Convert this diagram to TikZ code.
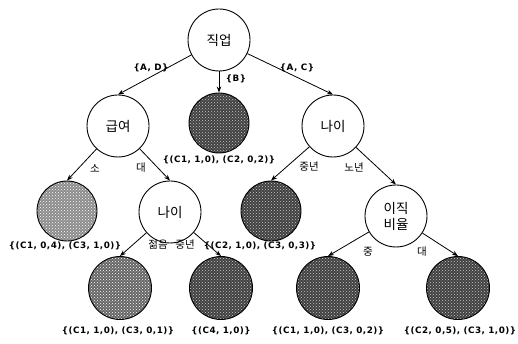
\documentclass[tikz,border=0pt]{standalone}
\usepackage{fontspec}
\setmainfont{Noto Sans CJK KR}
\newfontfamily\latinlab[LetterSpace=5]{DejaVu Sans}
\usetikzlibrary{arrows.meta,patterns}
\tikzset{
  tnode/.style={circle,draw,line width=0.9pt,minimum size=62pt,inner sep=0pt,font=\fontsize{13.5}{16}\selectfont,align=center},
  leafbase/.style={circle,draw,line width=0.9pt,minimum size=63pt,inner sep=0pt,pattern=crosshatch dots},
  lightleaf/.style={leafbase,preaction={fill=black!45},pattern color=white},
  midleaf/.style={leafbase,preaction={fill=black!60},pattern color=white},
  darkleaf/.style={leafbase,preaction={fill=black!75},pattern color=white!80!black},
  edge/.style={-{Stealth[length=6pt,width=4.5pt]},line width=0.8pt},
  elab/.style={font=\fontsize{10.5}{11}\selectfont,inner sep=1pt},
  slab/.style={font=\latinlab\bfseries\fontsize{8.8}{10}\selectfont,inner sep=1pt}
}
\begin{document}
\begin{tikzpicture}[x=1pt,y=-1pt]
\useasboundingbox (0,0) rectangle (518,344);
\fill[white] (0,0) rectangle (518,344);
% nodes
\node[tnode] (root) at (219,40) {직업};
\node[tnode] (n1) at (118,126) {급여};
\node[darkleaf,minimum size=60pt] (n2) at (219,123) {};
\node[tnode] (n3) at (333,126) {나이};
\node[lightleaf,minimum size=60pt] (l1) at (67,211) {};
\node[tnode] (n4) at (170,212) {나이};
\node[darkleaf,minimum size=60pt] (l2) at (271,211) {};
\node[tnode] (n5) at (396,216) {이직\\비율};
\node[midleaf] (l3) at (120,288) {};
\node[darkleaf] (l4) at (221,288) {};
\node[darkleaf] (l5) at (328,288) {};
\node[darkleaf] (l6) at (458,288) {};
% edges
\draw[edge] (root) -- (n1.north);
\draw[edge] (root) -- (n2.north);
\draw[edge] (root) -- (n3.north);
\draw[edge] (n1) -- (l1.north);
\draw[edge] (n1) -- (n4.north);
\draw[edge] (n3) -- (l2.north);
\draw[edge] (n3) -- (n5.north);
\draw[edge] (n4) -- (l3.north);
\draw[edge] (n4) -- (l4.north);
\draw[edge] (n5) -- (l5.north);
\draw[edge] (n5) -- (l6.north);
% edge labels
\node[slab] (e1) at (151,68) {\{A, D\}};
\node[slab] (e2) at (236,79) {\{B\}};
\node[slab] (e3) at (297,68) {\{A, C\}};
\node[elab] (e4) at (95,168) {소};
\node[elab] (e5) at (141,168) {대};
\node[elab] (e6) at (309,167) {중년};
\node[elab] (e7) at (354,167) {노년};
\node[elab] (e8) at (158,245) {젊음};
\node[elab] (e9) at (185,245) {중년};
\node[elab] (e10) at (368,252) {중};
\node[elab] (e11) at (422,252) {대};
% set labels
\node[slab] (s1) at (219,160) {\{(C1, 1,0), (C2, 0,2)\}};
\node[slab] (s2) at (65,246) {\{(C1, 0,4), (C3, 1,0)\}};
\node[slab] (s3) at (260,246) {\{(C2, 1,0), (C3, 0,3)\}};
\node[slab] (s4) at (118,331) {\{(C1, 1,0), (C3, 0,1)\}};
\node[slab] (s5) at (221,331) {\{(C4, 1,0)\}};
\node[slab] (s6) at (328,331) {\{(C1, 1,0), (C3, 0,2)\}};
\node[slab] (s7) at (460,331) {\{(C2, 0,5), (C3, 1,0)\}};
\end{tikzpicture}
\end{document}
